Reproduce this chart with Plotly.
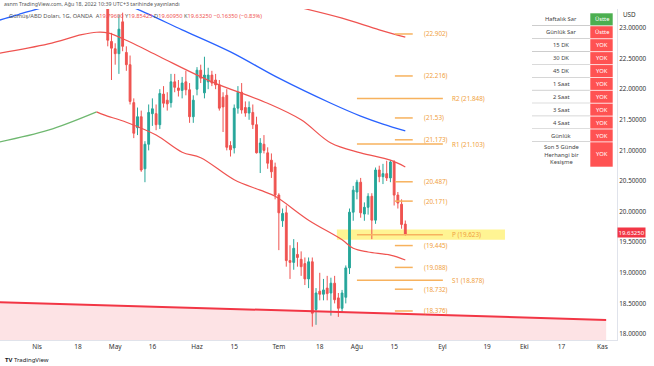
import numpy as np
import plotly.graph_objects as go

ANCHOR = "2022-08-01"

# ---------------- data ----------------
candle_dates = ["2022-04-28","2022-04-29","2022-05-02","2022-05-03","2022-05-04","2022-05-05","2022-05-06",
 "2022-05-09","2022-05-10","2022-05-11","2022-05-12","2022-05-13","2022-05-16","2022-05-17","2022-05-18",
 "2022-05-19","2022-05-20","2022-05-23","2022-05-24","2022-05-25","2022-05-26","2022-05-27","2022-05-30",
 "2022-05-31","2022-06-01","2022-06-02","2022-06-03","2022-06-06","2022-06-07","2022-06-08","2022-06-09",
 "2022-06-10","2022-06-13","2022-06-14","2022-06-15","2022-06-16","2022-06-17","2022-06-20","2022-06-21",
 "2022-06-22","2022-06-23","2022-06-24","2022-06-27","2022-06-28","2022-06-29","2022-06-30","2022-07-01",
 "2022-07-04","2022-07-05","2022-07-06","2022-07-07","2022-07-08","2022-07-11","2022-07-12","2022-07-13",
 "2022-07-14","2022-07-15","2022-07-18","2022-07-19","2022-07-20","2022-07-21","2022-07-22","2022-07-25",
 "2022-07-26","2022-07-27","2022-07-28","2022-07-29","2022-08-01","2022-08-02","2022-08-03","2022-08-04",
 "2022-08-05","2022-08-08","2022-08-09","2022-08-10","2022-08-11","2022-08-12","2022-08-15","2022-08-16",
 "2022-08-17","2022-08-18"]
opens  = [23.50,22.78,22.66,22.58,23.10,22.60,22.40,21.78,21.37,21.55,20.70,21.10,21.60,21.60,21.42,
          21.92,21.82,21.78,22.12,22.02,21.98,22.12,21.99,21.55,22.00,22.31,21.94,22.12,22.23,22.15,22.07,
          21.87,21.90,21.08,21.04,21.69,21.95,21.70,21.61,21.62,21.42,20.96,21.10,20.96,20.84,20.73,20.27,
          19.85,19.98,19.20,19.17,19.30,19.22,19.15,18.90,19.18,18.40,18.70,18.65,18.75,18.67,18.83,18.59,
          18.42,18.60,19.08,19.99,20.32,20.48,19.96,20.07,20.25,19.86,20.68,20.57,20.62,20.55,20.81,20.27,
          20.12,19.796]
highs  = [23.60,22.92,22.75,23.22,23.25,22.70,22.55,21.85,21.70,21.65,21.15,21.75,21.85,21.75,22.00,
          22.05,21.95,22.25,22.25,22.15,22.20,22.30,22.10,21.90,22.36,22.40,22.53,22.35,22.30,22.25,22.15,
          21.95,22.00,21.15,21.75,22.05,22.10,21.80,21.80,21.75,21.55,21.20,21.25,21.05,20.95,20.80,20.30,
          20.05,20.10,19.45,19.55,19.50,19.35,19.25,19.25,19.25,18.75,19.00,18.90,18.95,18.92,18.95,18.67,
          18.72,19.12,20.05,20.42,20.52,20.55,20.15,20.30,20.30,20.72,20.75,20.78,20.83,20.84,20.84,20.32,
          20.20,19.854]
lows   = [22.70,22.15,22.40,22.25,22.62,22.30,21.75,21.20,21.25,20.65,20.48,21.00,21.40,21.33,21.35,
          21.70,21.65,21.70,21.95,21.88,21.85,21.90,21.45,21.45,21.90,22.10,21.85,22.00,22.05,22.00,21.65,
          21.30,21.00,20.90,20.95,21.60,21.60,21.55,21.50,21.35,20.95,20.63,20.95,20.70,20.55,20.20,19.37,
          19.75,19.10,18.90,19.05,19.10,18.95,18.80,18.75,18.12,18.15,18.55,18.55,18.55,18.30,18.50,18.28,
          18.35,18.50,18.98,19.85,20.20,19.90,19.85,19.95,19.55,19.80,20.48,20.45,20.50,20.48,20.10,20.05,
          19.72,19.6095]
closes = [22.80,22.67,22.58,22.98,22.70,22.40,21.80,21.28,21.55,20.68,21.10,21.62,21.68,21.42,21.93,
          21.77,21.76,22.12,22.03,21.98,22.10,21.99,21.55,21.82,22.31,22.18,22.23,22.23,22.10,22.07,21.69,
          21.71,21.05,21.01,21.69,21.95,21.66,21.61,21.70,21.42,20.96,21.12,21.00,20.79,20.65,20.27,19.98,
          19.97,19.20,19.17,19.40,19.25,19.10,18.90,19.18,18.34,18.67,18.65,18.72,18.66,18.83,18.56,18.42,
          18.67,19.08,19.99,20.35,20.48,19.98,20.07,20.25,19.86,20.68,20.57,20.62,20.55,20.81,20.27,20.14,
          19.79,19.6325]

blue_dates  = ["2022-03-18","2022-03-25","2022-04-08","2022-04-25","2022-05-06","2022-05-12","2022-05-26",
               "2022-06-14","2022-07-01","2022-07-21","2022-08-02","2022-08-10","2022-08-18"]
blue_values = [23.13,23.22,23.38,23.42,23.35,23.25,22.97,22.61,22.18,21.77,21.56,21.43,21.32]

upper_dates  = ["2022-03-18","2022-04-06","2022-04-19","2022-04-25","2022-04-28","2022-05-06","2022-05-18",
                "2022-06-07","2022-06-28","2022-07-11","2022-07-21","2022-08-02","2022-08-12","2022-08-18"]
upper_values = [22.59,22.74,22.89,22.93,22.92,22.77,22.53,22.12,21.77,21.50,21.12,20.96,20.84,20.73]

lower_up_dates  = ["2022-03-18","2022-04-06","2022-04-25"]
lower_up_values = [21.14,21.33,21.63]
lower_dn_dates  = ["2022-04-25","2022-04-27","2022-05-05","2022-05-17","2022-05-26","2022-06-02","2022-06-15",
                   "2022-06-24","2022-06-30","2022-07-13","2022-07-26","2022-07-29","2022-08-04","2022-08-12","2022-08-18"]
lower_dn_values = [21.63,21.58,21.46,21.25,20.97,20.88,20.52,20.35,20.25,19.86,19.54,19.40,19.34,19.29,19.21]

long_ma_dates  = ["2022-07-11","2022-07-26","2022-08-09","2022-08-18"]
long_ma_values = [23.33,23.16,22.97,22.85]

trend_dates  = ["2022-03-18","2022-11-02"]
trend_values = [18.52,18.23]

short_levels = [22.902,22.216,21.53,21.173,20.487,20.171,19.445,19.088,18.732,18.376]
short_labels = ["(22.902)","(22.216)","(21.53)","(21.173)","(20.487)","(20.171)","(19.445)","(19.088)","(18.732)","(18.376)"]
pivot_names  = ["R2","R1","P","S1"]
pivot_values = [21.848,21.103,19.623,18.878]

tick_dates  = ["2022-04-01","2022-04-18","2022-05-02","2022-05-16","2022-06-01","2022-06-15","2022-07-01",
               "2022-07-18","2022-08-01","2022-08-15","2022-09-01","2022-09-19","2022-10-03","2022-10-17","2022-11-01"]
tick_labels = ["Nis","18","May","16","Haz","15","Tem","18","Ağu","15","Eyl","19","Eki","17","Kas"]

y_ticks = [18.0,18.5,19.0,19.5,20.0,20.5,21.0,21.5,22.0,22.5,23.0]

table_rows   = ["Haftalık Sar","Günlük Sar","15 DK","30 DK","45 DK","1 Saat","2 Saat","3 Saat","4 Saat","Günlük",
                "Son 5 Günde<br>Herhangi bir<br>Kesişme"]
table_status = ["Üstte","Üstte","YOK","YOK","YOK","YOK","YOK","YOK","YOK","YOK","YOK"]
table_colors = ["#4caf50","#ff5252","#ff5252","#ff5252","#ff5252","#ff5252","#ff5252","#ff5252","#ff5252","#ff5252","#ff5252"]

last_price = 19.6325

# ---------------- helpers ----------------
def idx(ds):
    return [int(np.busday_count(ANCHOR, d)) for d in ds]

W, H = 654, 366
PL, PR, PT, PB = 0, 617, 9, 340   # plot area in pixels
def px(x):  # pixel x -> paper
    return (x - PL) / (PR - PL)
def py(y):
    return (PB - y) / (PB - PT)

FONT = "Noto Sans"
fig = go.Figure()

# trendline with fill
fig.add_trace(go.Scatter(x=idx(trend_dates), y=trend_values, mode="lines",
                         line=dict(color="#f23645", width=2), fill="tozeroy",
                         fillcolor="rgba(242,54,69,0.14)", hoverinfo="skip"))

# moving lines
fig.add_trace(go.Scatter(x=idx(blue_dates), y=blue_values, mode="lines", line=dict(color="#2962ff", width=1.3, shape="spline"), hoverinfo="skip"))
fig.add_trace(go.Scatter(x=idx(upper_dates), y=upper_values, mode="lines", line=dict(color="#ef5350", width=1.2, shape="spline"), hoverinfo="skip"))
fig.add_trace(go.Scatter(x=idx(lower_up_dates), y=lower_up_values, mode="lines", line=dict(color="#6fb870", width=1.2, shape="spline"), hoverinfo="skip"))
fig.add_trace(go.Scatter(x=idx(lower_dn_dates), y=lower_dn_values, mode="lines", line=dict(color="#ef5350", width=1.2, shape="spline"), hoverinfo="skip"))
fig.add_trace(go.Scatter(x=idx(long_ma_dates), y=long_ma_values, mode="lines", line=dict(color="#ef5350", width=1.2, shape="spline"), hoverinfo="skip"))

# pivot / level lines
ORANGE = "#f7b25e"
SHORT_X = (10.2, 15.0)
LONG_X = (0.0, 23.1)
for v, lab in zip(short_levels, short_labels):
    fig.add_trace(go.Scatter(x=list(SHORT_X), y=[v, v], mode="lines", line=dict(color=ORANGE, width=1.5), hoverinfo="skip"))
    fig.add_annotation(x=17.5, y=v, xref="x", yref="y", text=lab, showarrow=False, xanchor="left", yanchor="middle",
                       font=dict(size=6.3, color="#f0a040", family=FONT))
for n, v in zip(pivot_names, pivot_values):
    fig.add_trace(go.Scatter(x=list(LONG_X), y=[v, v], mode="lines", line=dict(color=ORANGE, width=1.5), hoverinfo="skip"))
    fig.add_annotation(x=25, y=v, xref="x", yref="y", text=f"{n} ({v:.3f})", showarrow=False, xanchor="left", yanchor="middle",
                       font=dict(size=6.3, color="#f0a040", family=FONT))

# candles
fig.add_trace(go.Candlestick(x=idx(candle_dates), open=opens, high=highs, low=lows, close=closes,
                             increasing=dict(line=dict(color="#26a69a", width=1), fillcolor="#26a69a"),
                             decreasing=dict(line=dict(color="#ef5350", width=1), fillcolor="#ef5350"),
                             hoverinfo="skip"))

# yellow pivot highlight
fig.add_shape(type="rect", xref="x", yref="y", x0=-5.4, x1=39.8, y0=pivot_values[2] - 0.085, y1=pivot_values[2] + 0.085,
              fillcolor="rgba(255,235,59,0.55)", line=dict(width=0), layer="below")

# table
row_top = 13
row_h = 12.9
x0, x1, x2 = 532, 590, 613
for i, (lab, st, col) in enumerate(zip(table_rows, table_status, table_colors)):
    top = row_top + i * row_h
    bot = top + (row_h if i < len(table_rows) - 1 else 25)
    fig.add_shape(type="rect", xref="paper", yref="paper", x0=px(x0), x1=px(x1), y0=py(bot), y1=py(top),
                  fillcolor="white", line=dict(width=0))
    fig.add_shape(type="rect", xref="paper", yref="paper", x0=px(x1), x1=px(x2), y0=py(bot), y1=py(top),
                  fillcolor=col, line=dict(color="white", width=0.6))
    if i < len(table_rows) - 1:
        fig.add_shape(type="line", xref="paper", yref="paper", x0=px(x0), x1=px(x1), y0=py(bot), y1=py(bot),
                      line=dict(color="#8a8a8a", width=0.7))
    fig.add_annotation(x=px((x0 + x1) / 2), y=py((top + bot) / 2), xref="paper", yref="paper", text=lab,
                       showarrow=False, xanchor="center", yanchor="middle",
                       font=dict(size=5.8, color="#444", family=FONT))
    fig.add_annotation(x=px((x1 + x2) / 2), y=py((top + bot) / 2), xref="paper", yref="paper", text=st,
                       showarrow=False, xanchor="center", yanchor="middle",
                       font=dict(size=5.8, color="white", family=FONT))

# header texts
fig.add_annotation(x=px(2), y=py(4), xref="paper", yref="paper", xanchor="left", yanchor="middle", showarrow=False,
                   text="asnm TradingView.com, Ağu 18, 2022 10:39 UTC+3 tarihinde yayınlandı",
                   font=dict(size=5.3, color="#555", family=FONT))
fig.add_annotation(x=px(7), y=py(16), xref="paper", yref="paper", xanchor="left", yanchor="middle", showarrow=False,
                   text=("Gümüş/ABD Doları, 1G, OANDA  A<span style='color:#ef5350'>19.79600</span> "
                         "Y<span style='color:#ef5350'>19.85425</span> D<span style='color:#ef5350'>19.60950</span> "
                         "K<span style='color:#ef5350'>19.63250</span> <span style='color:#ef5350'>−0.16350 (−0.83%)</span>"),
                   font=dict(size=5.7, color="#555", family=FONT))
fig.add_annotation(x=px(3), y=py(360), xref="paper", yref="paper", xanchor="left", yanchor="middle", showarrow=False,
                   text="<b>TV</b> TradingView", font=dict(size=6, color="#131722", family=FONT))
fig.add_annotation(x=px(621), y=py(15), xref="paper", yref="paper", xanchor="left", yanchor="middle", showarrow=False,
                   text="USD", font=dict(size=6.3, color="#333", family=FONT))
fig.add_annotation(x=px(617), y=last_price, xref="paper", yref="y", xanchor="left", yanchor="middle", showarrow=False,
                   text=f"{last_price:.5f}", bgcolor="#f23645", borderpad=0.5, yshift=2,
                   font=dict(size=6, color="white", family=FONT))

fig.update_layout(
    width=W, height=H,
    margin=dict(l=PL, r=W - PR, t=PT, b=H - PB),
    plot_bgcolor="white", paper_bgcolor="white", showlegend=False,
    xaxis=dict(range=[-95.97, 69.92], tickmode="array", tickvals=idx(tick_dates), ticktext=tick_labels,
               showgrid=False, zeroline=False, ticks="", rangeslider=dict(visible=False),
               tickfont=dict(size=6.5, color="#333", family=FONT), showline=True, linecolor="#e0e3eb"),
    yaxis=dict(side="right", range=[17.902, 23.310], tickmode="array", tickvals=y_ticks,
               ticktext=[f"{v:.5f}" for v in y_ticks], showgrid=False, zeroline=False, ticks="",
               tickfont=dict(size=6.3, color="#333", family=FONT), showline=True, linecolor="#e0e3eb"),
)

fig.write_html("out.html", config={"displayModeBar": False},
               post_script="document.body.style.margin='0';document.body.style.overflow='hidden';")
